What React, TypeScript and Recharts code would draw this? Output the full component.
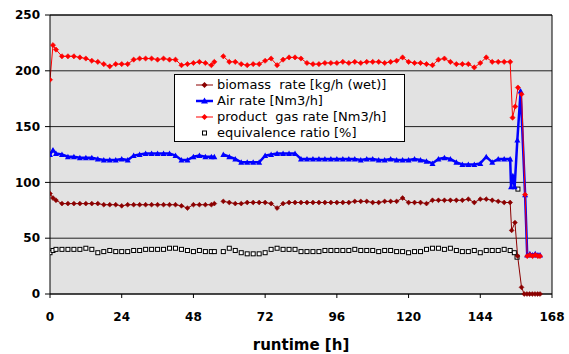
import { LineChart, Line, XAxis, YAxis, CartesianGrid, ReferenceLine } from 'recharts';

// runtime grid [h] for the steady part of the run (56 = gap in logging)
const runtime = [
  0, 1, 2, 4, 6, 8, 10, 12, 14, 16, 18, 20, 22, 24, 26, 28, 30, 32, 34, 36, 38, 40, 42, 44, 46, 48, 50, 52, 54, 55, 56,
  58, 60, 62, 64, 66, 68, 70, 72, 74, 76, 78, 80, 82, 84, 86, 88, 90, 92, 94, 96, 98, 100, 102, 104, 106, 108, 110,
  112, 114, 116, 118, 120, 122, 124, 126, 128, 130, 132, 134, 136, 138, 140, 142, 144, 146, 148, 150, 152, 154,
];

const biomassRate = [
  90, 86, 84, 81, 81, 81, 81, 81, 81, 81, 80, 80, 80, 79, 80, 80, 80, 80, 80, 80, 80, 80, 80, 79, 77, 80, 80, 80, 80, 81, null,
  83, 82, 81, 81, 82, 82, 82, 82, 81, 77, 81, 82, 82, 82, 82, 82, 82, 82, 82, 82, 82, 82, 83, 83, 83, 82, 82,
  83, 83, 83, 86, 82, 82, 82, 81, 84, 84, 84, 84, 84, 84, 85, 82, 85, 85, 84, 83, 82, 82,
];

const airRate = [
  125, 129, 126, 125, 123, 123, 122, 122, 122, 121, 120, 120, 120, 121, 120, 124, 125, 126, 126, 126, 126, 126, 124, 120, 120, 123, 124, 123, 123, 123, null,
  125, 123, 121, 118, 118, 118, 118, 124, 125, 126, 126, 126, 126, 121, 121, 121, 121, 121, 121, 121, 121, 121, 121, 120, 121, 121, 120,
  120, 121, 120, 120, 120, 121, 120, 119, 117, 121, 122, 121, 118, 116, 116, 116, 117, 123, 118, 121, 121, 121,
];

const gasRate = [
  192, 223, 219, 213, 213, 213, 212, 211, 209, 208, 206, 204, 206, 206, 206, 210, 211, 211, 211, 210, 211, 210, 210, 205, 206, 207, 208, 207, 205, 208, null,
  213, 208, 208, 206, 205, 206, 206, 209, 211, 205, 210, 212, 212, 211, 207, 206, 206, 207, 207, 207, 208, 207, 208, 207, 208, 208, 208,
  207, 208, 209, 212, 208, 207, 207, 206, 205, 210, 211, 208, 206, 206, 206, 203, 207, 212, 208, 208, 208, 208,
];

const eqRatio = [
  37, 39, 40, 40, 40, 40, 40, 41, 40, 37, 38, 39, 38, 38, 38, 39, 39, 40, 40, 40, 40, 41, 41, 40, 39, 38, 39, 38, 38, 38, null,
  38, 41, 39, 37, 36, 36, 36, 37, 40, 41, 40, 40, 40, 38, 38, 38, 38, 39, 39, 39, 39, 39, 40, 39, 39, 39, 38,
  39, 39, 38, 38, 37, 38, 38, 40, 41, 41, 40, 41, 39, 38, 38, 39, 37, 39, 39, 39, 40, 39,
];

// shutdown phase, each series logged at its own times
const biomassTailT = [154.5, 155.6, 156.5, 157.8, 158.7, 159.6, 160.5, 161.4, 162.3, 163.2, 164];
const biomassTail = [57, 64, 34, 6, 0, 0, 0, 0, 0, 0, 0];
const airTailT = [154.3, 154.9, 155.5, 156.4, 157.5, 159, 159.7, 160.6, 161.5, 162.4, 163.3, 164];
const airTail = [96, 106, 96, 138, 182, 89, 35, 36, 35, 36, 35, 35];
const gasTailT = [154.8, 155.7, 156.6, 157.8, 159, 159.7, 160.6, 161.5, 162.4, 163.3, 164];
const gasTail = [158, 168, 185, 179, 89, 34, 35, 34, 35, 34, 34];
const eqTailT = [155.4, 156.3, 156.6];
const eqTail = [37, 33, 94];

const xTicks = [0, 24, 48, 72, 96, 120, 144, 168];
const yTicks = [0, 50, 100, 150, 200, 250];

const build = (vals: (number | null)[], tailT: number[], tail: number[]) =>
  runtime.map((t, i) => ({ t, v: vals[i] })).concat(tailT.map((t, i) => ({ t, v: tail[i] })));

const biomassData = build(biomassRate, biomassTailT, biomassTail);
const airData = build(airRate, airTailT, airTail);
const gasData = build(gasRate, gasTailT, gasTail);
const eqData = build(eqRatio, eqTailT, eqTail);

const DARKRED = '#8B0000';
const RED = '#FF0000';
const BLUE = '#0000FF';
const FONT = 'DejaVu Sans, Verdana, sans-serif';

const diamond = (color: string, r: number) => (p: any) => {
  const { cx, cy, index, payload } = p;
  if (payload?.v == null || cx == null || cy == null) return <g key={index} />;
  return (
    <path
      key={index}
      d={`M${cx},${cy - r}L${cx + r},${cy}L${cx},${cy + r}L${cx - r},${cy}Z`}
      fill={color}
      stroke={color}
      strokeWidth={0.6}
    />
  );
};

const triangle = (p: any) => {
  const { cx, cy, index, payload } = p;
  if (payload?.v == null || cx == null || cy == null) return <g key={index} />;
  return <path key={index} d={`M${cx},${cy - 3}L${cx + 3},${cy + 2.5}L${cx - 3},${cy + 2.5}Z`} fill={BLUE} />;
};

const square = (p: any) => {
  const { cx, cy, index, payload } = p;
  if (payload?.v == null || cx == null || cy == null) return <g key={index} />;
  return <rect key={index} x={cx - 2} y={cy - 2} width={4} height={4} fill="#fff" stroke="#000" strokeWidth={1} />;
};

const legendRows = [
  { label: 'biomass  rate [kg/h (wet)]', kind: 'biomass' },
  { label: 'Air rate [Nm3/h]', kind: 'air' },
  { label: 'product  gas rate [Nm3/h]', kind: 'gas' },
  { label: 'equivalence ratio [%]', kind: 'eq' },
];

function LegendIcon({ kind }: { kind: string }) {
  return (
    <svg width={18} height={12} style={{ display: 'block' }}>
      {kind === 'biomass' && (
        <>
          <line x1={0} y1={6} x2={17} y2={6} stroke={DARKRED} strokeWidth={1} />
          <path d="M8.5,3L11.5,6L8.5,9L5.5,6Z" fill={DARKRED} />
        </>
      )}
      {kind === 'air' && (
        <>
          <line x1={0} y1={6} x2={17} y2={6} stroke={BLUE} strokeWidth={2.5} />
          <path d="M8.5,2.5L12,8.5L5,8.5Z" fill={BLUE} />
        </>
      )}
      {kind === 'gas' && (
        <>
          <line x1={0} y1={6} x2={17} y2={6} stroke={RED} strokeWidth={1} />
          <path d="M8.5,3L11.5,6L8.5,9L5.5,6Z" fill={RED} />
        </>
      )}
      {kind === 'eq' && <rect x={6.5} y={4} width={4} height={4} fill="#fff" stroke="#000" />}
    </svg>
  );
}

export default function App() {
  return (
    <div style={{ position: 'absolute', left: 0, top: 0, width: 569, height: 354, background: '#fff' }}>
      <LineChart width={569} height={354} margin={{ top: 15, right: 17, bottom: 0, left: 0 }}>
        <CartesianGrid vertical={false} fill="#E2E2E2" stroke="#222" strokeOpacity={1} />
        <XAxis
          type="number"
          dataKey="t"
          domain={[0, 168]}
          ticks={xTicks}
          allowDataOverflow
          height={60}
          tickSize={4}
          tickMargin={14}
          stroke="#000"
          tick={{ fill: '#000', fontSize: 12, fontWeight: 'bold', fontFamily: FONT }}
          label={{
            value: 'runtime [h]',
            position: 'insideBottom',
            offset: 4,
            style: { fill: '#000', fontSize: 15, fontWeight: 'bold', fontFamily: FONT },
          }}
        />
        <YAxis
          type="number"
          domain={[0, 250]}
          ticks={yTicks}
          width={50}
          tickSize={5}
          tickMargin={5}
          stroke="#000"
          tick={{ fill: '#000', fontSize: 12, fontWeight: 'bold', fontFamily: FONT }}
        />
        <ReferenceLine x={168} stroke="#000" />
        <ReferenceLine y={250} stroke="#000" />
        <Line
          data={eqData}
          dataKey="v"
          stroke="none"
          dot={square}
          activeDot={false}
          isAnimationActive={false}
        />
        <Line
          data={biomassData}
          dataKey="v"
          stroke={DARKRED}
          strokeWidth={1}
          dot={diamond(DARKRED, 2.4)}
          activeDot={false}
          isAnimationActive={false}
        />
        <Line
          data={airData}
          dataKey="v"
          stroke={BLUE}
          strokeWidth={2.5}
          dot={triangle}
          activeDot={false}
          isAnimationActive={false}
        />
        <Line
          data={gasData}
          dataKey="v"
          stroke={RED}
          strokeWidth={1}
          dot={diamond(RED, 2.6)}
          activeDot={false}
          isAnimationActive={false}
        />
      </LineChart>
      <div
        style={{
          position: 'absolute',
          left: 174,
          top: 74,
          width: 231,
          height: 68,
          background: '#fff',
          border: '1px solid #000',
          fontFamily: FONT,
          fontSize: 13,
          lineHeight: '16px',
          color: '#000',
          paddingTop: 2,
          boxSizing: 'border-box',
        }}
      >
        {legendRows.map((r) => (
          <div key={r.kind} style={{ display: 'flex', alignItems: 'center', height: 16, paddingLeft: 21 }}>
            <LegendIcon kind={r.kind} />
            <span style={{ whiteSpace: 'pre', marginLeft: 3 }}>{r.label}</span>
          </div>
        ))}
      </div>
    </div>
  );
}
